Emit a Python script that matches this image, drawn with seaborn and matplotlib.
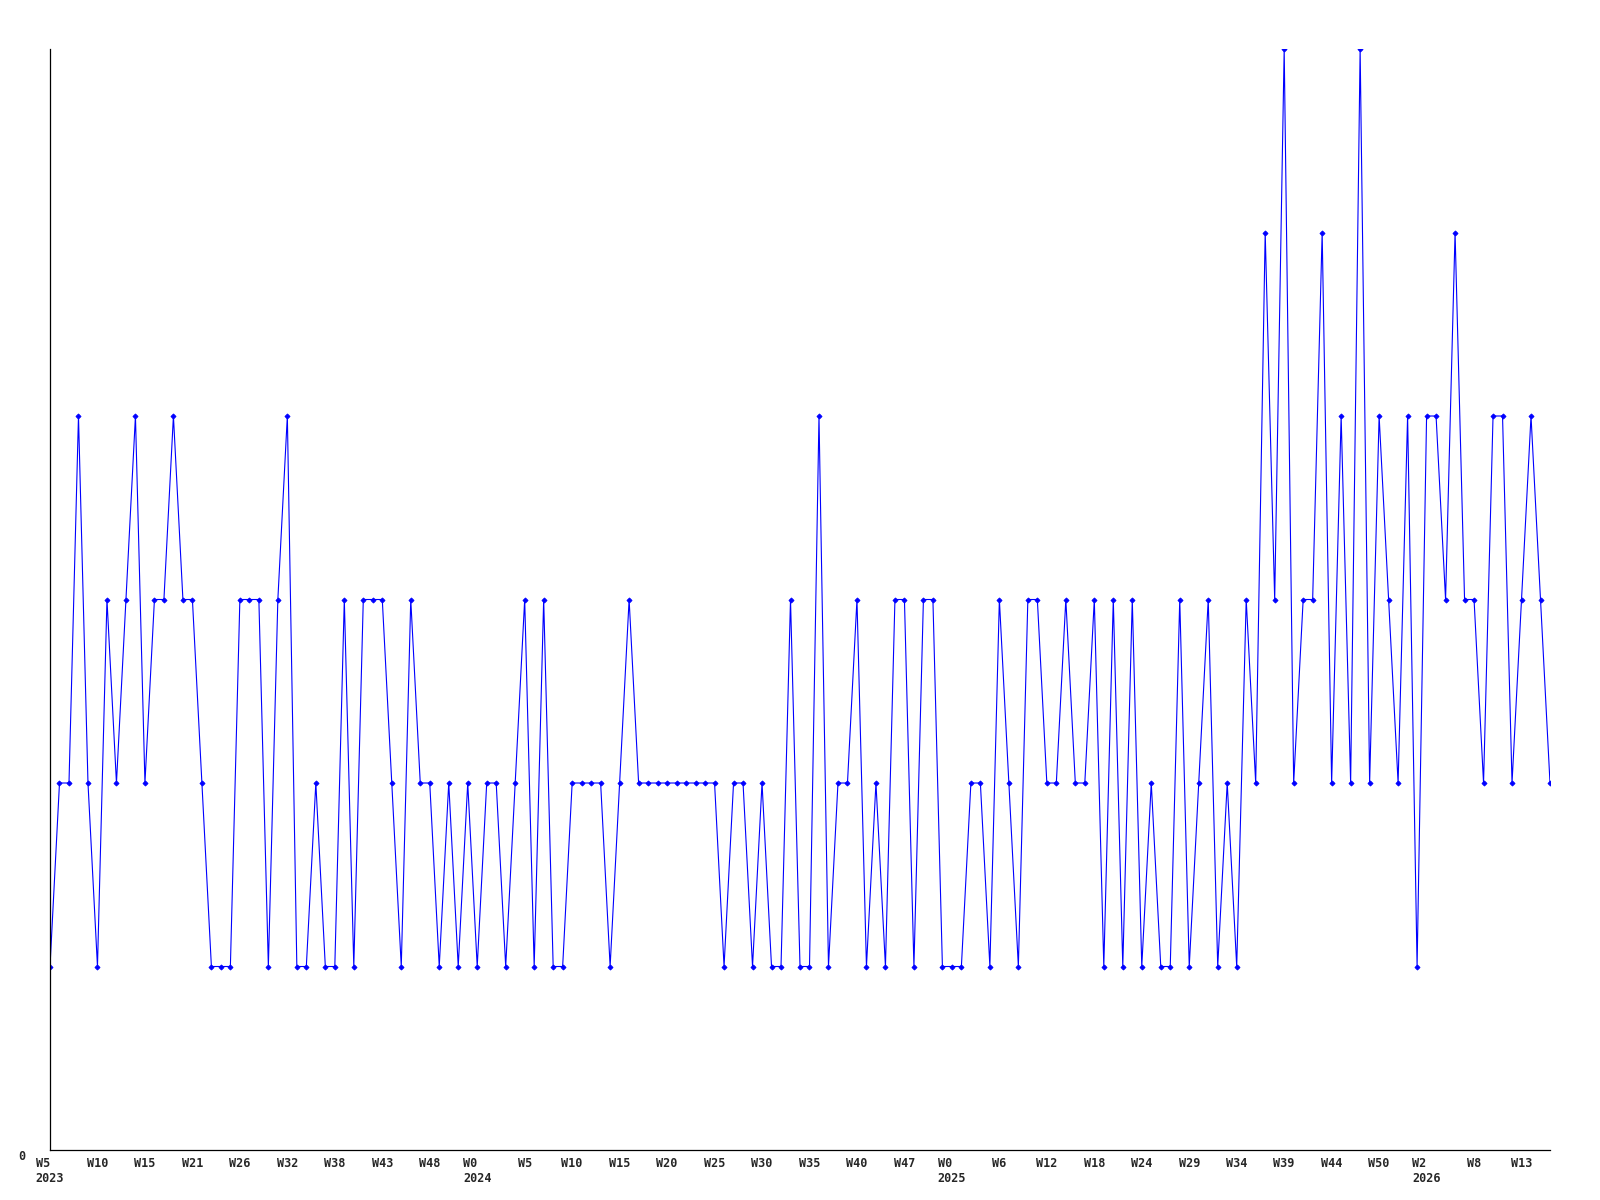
import pandas as pd
import seaborn as sns
import matplotlib.pyplot as plt
import matplotlib.transforms as mtransforms

# weekly values, one per week starting W5 2023
values = [
    1, 2, 2, 4, 2, 1, 3, 2, 3, 4, 2, 3, 3, 4, 3, 3, 2, 1, 1, 1, 3,
    3, 3, 1, 3, 4, 1, 1, 2, 1, 1, 3, 1, 3, 3, 3, 2, 1, 3, 2, 2,
    1, 2, 1, 2, 1, 2, 2, 1, 2, 3, 1, 3, 1, 1, 2, 2, 2, 2, 1, 2,
    3, 2, 2, 2, 2, 2, 2, 2, 2, 2, 1, 2, 2, 1, 2, 1, 1, 3, 1, 1,
    4, 1, 2, 2, 3, 1, 2, 1, 3, 3, 1, 3, 3, 1, 1, 1, 2, 2, 1, 3,
    2, 1, 3, 3, 2, 2, 3, 2, 2, 3, 1, 3, 1, 3, 1, 2, 1, 1, 3, 1,
    2, 3, 1, 2, 1, 3, 2, 5, 3, 6, 2, 3, 3, 5, 2, 4, 2, 6, 2, 4,
    3, 2, 4, 1, 4, 4, 3, 5, 3, 3, 2, 4, 4, 2, 3, 4, 3, 2,
]

# labels on every 5th point
week_labels = ['W5', 'W10', 'W15', 'W21', 'W26', 'W32', 'W38', 'W43', 'W48',
               'W0', 'W5', 'W10', 'W15', 'W20', 'W25', 'W30', 'W35', 'W40', 'W47',
               'W0', 'W6', 'W12', 'W18', 'W24', 'W29', 'W34', 'W39', 'W44', 'W50',
               'W2', 'W8', 'W13']
year_labels = {0: '2023', 9: '2024', 19: '2025', 29: '2026'}

df = pd.DataFrame({'idx': range(len(values)), 'value': values})

sns.set_style('white')
plt.rcParams['font.family'] = ['DejaVu Sans Mono']

fig = plt.figure(figsize=(16, 12), dpi=100)
ax = fig.add_axes([50 / 1600, 1 - 1150 / 1200, 1500 / 1600, 1101 / 1200])

sns.lineplot(data=df, x='idx', y='value', ax=ax, color='#0000ff',
             linewidth=0.8, marker='D', markersize=2.6, markeredgewidth=0.6,
             markeredgecolor='#0000ff')

ax.set_xlim(0, len(values) - 1)
ax.set_ylim(0, 6)

ticks = list(range(0, len(values), 5))
labels = []
for k, w in enumerate(week_labels):
    if k in year_labels:
        labels.append(w + '\n' + year_labels[k])
    else:
        labels.append(w)
ax.set_xticks(ticks)
ax.set_xticklabels(labels, fontsize=8.5, fontweight='bold', multialignment='left',
                   linespacing=1.25)
# nudge the two-line labels a little to the right, like the original
shift = mtransforms.ScaledTranslation(3 / 100, 0, fig.dpi_scale_trans)
for k, lab in enumerate(ax.get_xticklabels()):
    if k in year_labels:
        lab.set_transform(lab.get_transform() + shift)

ax.set_yticks([0])
ax.set_yticklabels(['0'], fontsize=8.5, fontweight='bold', va='top')

ax.tick_params(axis='x', length=0, pad=5)
ax.tick_params(axis='y', length=0, pad=18)
ax.set_xlabel('')
ax.set_ylabel('')

for side in ['top', 'right']:
    ax.spines[side].set_visible(False)
for side in ['left', 'bottom']:
    ax.spines[side].set_color('black')
    ax.spines[side].set_linewidth(0.9)

plt.savefig('out.png', dpi=100)
